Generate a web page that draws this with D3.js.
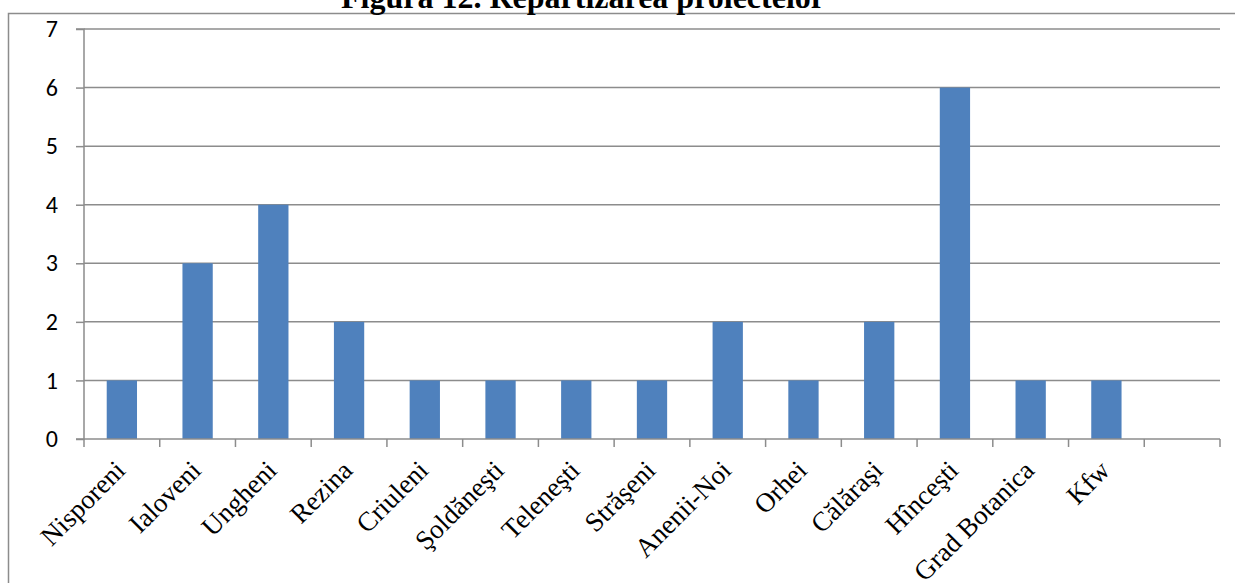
<!DOCTYPE html>
<html><head><meta charset="utf-8">
<script src="https://cdn.jsdelivr.net/npm/d3@7"></script>
<style>body{margin:0;background:#fff}svg{display:block}</style>
</head><body>
<svg id="c" width="1235" height="583"></svg>
<script>
const categories = ["Nisporeni","Ialoveni","Ungheni","Rezina","Criuleni","Şoldăneşti","Teleneşti","Străşeni","Anenii-Noi","Orhei","Călăraşi","Hînceşti","Grad Botanica","Kfw",""];
const values = [1,3,4,2,1,1,1,1,2,1,2,6,1,1,null];
const yTicks = [0,1,2,3,4,5,6,7];
const title = "Figura 12. Repartizarea proiectelor";

(function(){
const svg = d3.select("#c");
const pL = 84, pR = 1220, pT = 29, pB = 439;
const x = d3.scaleBand().domain(categories.map((d,i)=>i)).range([pL,pR]).paddingInner(0).paddingOuter(0);
const y = d3.scaleLinear().domain([0,7]).range([pB,pT]);
const grid = "#8c8c8c";

// outer border
svg.append("path").attr("d",`M8.5,600 V13.5 H1240`).attr("fill","none").attr("stroke",grid).attr("stroke-width",1.5);

// title
svg.append("text").attr("x",583).attr("y",8).attr("text-anchor","middle")
  .style("font-family","'Liberation Serif','Times New Roman',serif").style("font-weight","bold").style("font-size","32px")
  .text(title);

// gridlines
svg.append("g").selectAll("line").data(yTicks.filter(d=>d>0)).join("line")
  .attr("x1",pL).attr("x2",pR).attr("y1",d=>y(d)).attr("y2",d=>y(d))
  .attr("stroke",grid).attr("stroke-width",1.5);

// y axis
const ya = svg.append("g").attr("transform",`translate(${pL},0)`)
  .call(d3.axisLeft(y).tickValues(yTicks).tickSize(8).tickPadding(18).tickFormat(d3.format("d")));
ya.select(".domain").attr("stroke",grid).attr("stroke-width",1.5).attr("d",`M-8,${pT}H0V${pB}H-8`);
ya.selectAll(".tick line").attr("stroke",grid).attr("stroke-width",1.5);
ya.selectAll(".tick text").style("font-family","Carlito,'Open Sans','Liberation Sans',sans-serif").style("font-size","24px").attr("fill","#000");

// bars
const bw = x.bandwidth()*0.4;
svg.append("g").selectAll("rect").data(values.map((v,i)=>({v,i})).filter(d=>d.v!=null)).join("rect")
  .attr("x",d=>x(d.i)+x.bandwidth()/2-bw/2).attr("width",bw)
  .attr("y",d=>y(d.v)).attr("height",d=>y(0)-y(d.v)).attr("fill","#4F81BD");

// x axis
const edges = categories.map((d,i)=>x(i)).concat([pR]);
const xa = svg.append("g");
xa.append("line").attr("x1",pL).attr("x2",pR).attr("y1",pB).attr("y2",pB).attr("stroke",grid).attr("stroke-width",1.5);
xa.selectAll("line.t").data(edges).join("line").attr("class","t")
  .attr("x1",d=>d).attr("x2",d=>d).attr("y1",pB).attr("y2",pB+8).attr("stroke",grid).attr("stroke-width",1.5);
xa.selectAll("text").data(categories).join("text")
  .attr("transform",(d,i)=>`translate(${x(i)+x.bandwidth()/2+5},${pB+33}) rotate(-45)`)
  .attr("text-anchor","end")
  .style("font-family","'Liberation Serif','Times New Roman',serif").style("font-size","27px").attr("fill","#000")
  .text(d=>d);
})();
</script>
</body></html>
